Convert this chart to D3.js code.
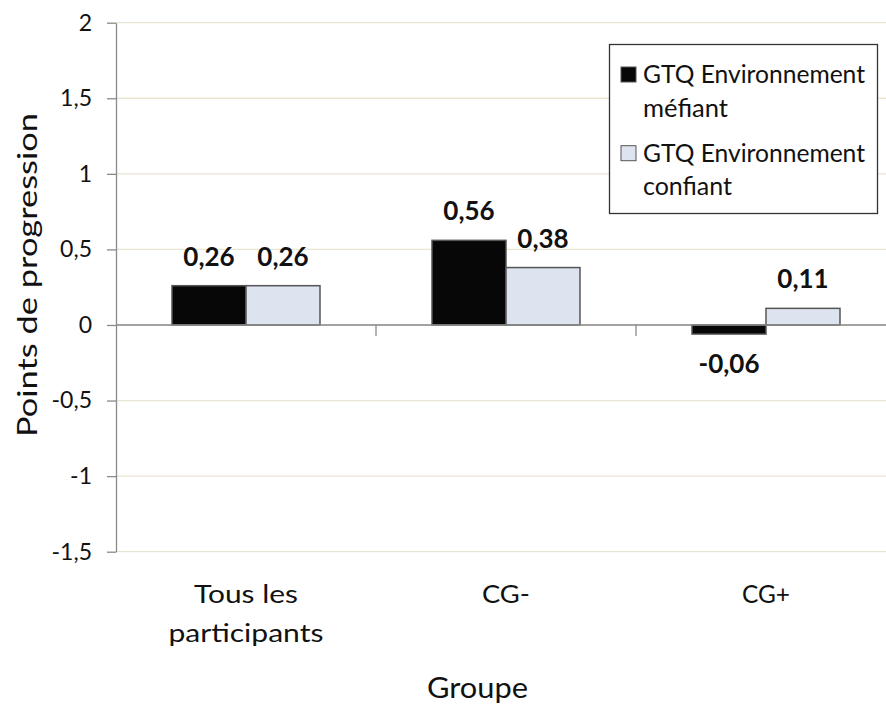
<!DOCTYPE html>
<html>
<head>
<meta charset="utf-8">
<script src="https://cdn.jsdelivr.net/npm/d3@7"></script>
<style>
  html, body { margin: 0; padding: 0; background: #fff; }
  svg { display: block; }
  text { font-family: Lato, "Open Sans", sans-serif; fill: #111; }
</style>
</head>
<body>
<svg id="chart" width="886" height="709"></svg>
<script>
// Groups and the two series (progress points)
const categories = ["Tous les participants", "CG-", "CG+"];
const categoryLines = [["Tous les", "participants"], ["CG-"], ["CG+"]];
const seriesNames = ["GTQ Environnement méfiant", "GTQ Environnement confiant"];
const legendLines = [["GTQ Environnement", "méfiant"], ["GTQ Environnement", "confiant"]];
const mefiant = [0.26, 0.56, -0.06];
const confiant = [0.26, 0.38, 0.11];
const yTicks = [-1.5, -1, -0.5, 0, 0.5, 1, 1.5, 2];

const fmt = v => String(v).replace(".", ",");
const colors = ["#070707", "#dde4ef"];

const svg = d3.select("#chart");
const plotLeft = 116, plotRight = 896, plotTop = 22.7, plotBottom = 551.7;

// text widths used by the stretched Calibri-like lettering
const widthOf = {
  "Tous les": 104, "participants": 155, "CG-": 48, "CG+": 48,
  "GTQ Environnement": 222, "méfiant": 85, "confiant": 89
};

const x0 = d3.scaleBand().domain(categories).range([plotLeft, plotRight])
  .paddingInner(0.4308).paddingOuter(0.2154);
const x1 = d3.scaleBand().domain(seriesNames).range([0, x0.bandwidth()]);
const y = d3.scaleLinear().domain([-1.5, 2]).range([plotBottom, plotTop]);

// horizontal gridlines
svg.append("g").selectAll("line").data(yTicks).join("line")
  .attr("x1", plotLeft).attr("x2", plotRight)
  .attr("y1", d => y(d)).attr("y2", d => y(d))
  .attr("stroke", "#e9e5d3").attr("stroke-width", 1.3);

// value axis
const yAxis = svg.append("g").attr("transform", `translate(${plotLeft},0)`)
  .call(d3.axisLeft(y).tickValues(yTicks).tickSize(9).tickSizeOuter(0).tickPadding(15).tickFormat(fmt));
yAxis.select(".domain").attr("stroke", "#8a8a8a").attr("stroke-width", 1.3);
yAxis.selectAll(".tick line").attr("stroke", "#8a8a8a").attr("stroke-width", 1.3);
yAxis.selectAll(".tick text").attr("font-size", 23).attr("fill", "#111")
  .style("font-family", "Lato, sans-serif");

// bars
const rows = categories.map((c, i) => ({ cat: c, vals: [mefiant[i], confiant[i]] }));
const groups = svg.append("g").selectAll("g").data(rows).join("g")
  .attr("transform", d => `translate(${x0(d.cat)},0)`);
groups.selectAll("rect").data(d => d.vals.map((v, j) => ({ v, s: seriesNames[j], j })))
  .join("rect")
  .attr("x", d => x1(d.s))
  .attr("width", x1.bandwidth())
  .attr("y", d => y(Math.max(0, d.v)))
  .attr("height", d => Math.abs(y(d.v) - y(0)))
  .attr("fill", d => colors[d.j])
  .attr("stroke", "#555").attr("stroke-width", 1.5);

// category axis on the zero line
const xAxisG = svg.append("g");
xAxisG.append("line").attr("x1", plotLeft).attr("x2", plotRight)
  .attr("y1", y(0)).attr("y2", y(0)).attr("stroke", "#8a8a8a").attr("stroke-width", 1.5);
const boundaries = categories.slice(1).map(c => x0(c) - x0.step() * x0.paddingInner() / 2);
xAxisG.selectAll(".bt").data(boundaries).join("line").attr("class", "bt")
  .attr("x1", d => d).attr("x2", d => d)
  .attr("y1", y(0)).attr("y2", y(0) + 11)
  .attr("stroke", "#8a8a8a").attr("stroke-width", 1.3);

// data labels
groups.selectAll("text.lbl").data(d => d.vals.map((v, j) => ({ v, s: seriesNames[j] })))
  .join("text").attr("class", "lbl")
  .attr("x", d => x1(d.s) + x1.bandwidth() / 2)
  .attr("y", d => d.v >= 0 ? y(d.v) - 20 : y(d.v) + 39)
  .attr("text-anchor", "middle")
  .attr("font-size", 26).attr("font-weight", "bold")
  .text(d => fmt(d.v));

// category labels
const catG = svg.append("g");
categories.forEach((c, i) => {
  const cx = x0(c) + x0.bandwidth() / 2;
  categoryLines[i].forEach((line, k) => {
    const w = widthOf[line];
    catG.append("text").attr("x", cx - w / 2).attr("y", 603 + k * 39)
      .attr("font-size", 25)
      .attr("textLength", w).attr("lengthAdjust", "spacingAndGlyphs")
      .text(line);
  });
});

// axis titles
svg.append("text").attr("x", 427).attr("y", 698)
  .attr("font-size", 29).attr("textLength", 101).attr("lengthAdjust", "spacingAndGlyphs")
  .text("Groupe");
svg.append("text").attr("transform", "translate(37,437) rotate(-90)")
  .attr("font-size", 26).attr("textLength", 324).attr("lengthAdjust", "spacingAndGlyphs")
  .text("Points de progression");

// legend
const lg = svg.append("g");
lg.append("rect").attr("x", 609.5).attr("y", 44.5).attr("width", 268).attr("height", 169)
  .attr("fill", "#fff").attr("stroke", "#333").attr("stroke-width", 1.3);
seriesNames.forEach((s, j) => {
  const by = 83 + j * 78.7;
  lg.append("rect").attr("x", 621).attr("y", by - 16).attr("width", 15).attr("height", 15)
    .attr("fill", colors[j]).attr("stroke", "#555").attr("stroke-width", 1);
  legendLines[j].forEach((t, k) => {
    lg.append("text").attr("x", 643).attr("y", by + k * 33.7).attr("font-size", 25)
      .attr("textLength", widthOf[t]).attr("lengthAdjust", "spacingAndGlyphs")
      .text(t);
  });
});
</script>
</body>
</html>
